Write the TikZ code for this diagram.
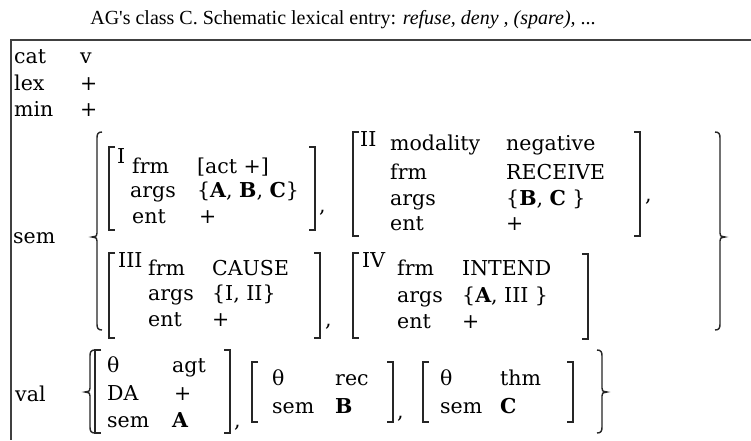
\documentclass[tikz,border=0pt]{standalone}
\usepackage{fontspec}
\setmainfont{DejaVu Serif}
\newfontfamily\titlefam{Liberation Serif}
\newcommand\bodyfont{\fontsize{20.5}{25}\selectfont}
\newcommand\titlefont{\titlefam\fontsize{20}{24}\selectfont}
% bracket helpers: x, top, bottom
\newcommand\mylbrk[3]{\draw[brk] (#1+6,#2) -- (#1,#2) -- (#1,#3) -- (#1+6,#3);}
\newcommand\myrbrk[3]{\draw[brk] (#1-6,#2) -- (#1,#2) -- (#1,#3) -- (#1-6,#3);}
% brace helpers: tip x, top, middle, bottom
\newcommand\mylbrace[4]{\draw[brk] (#1+10,#2) .. controls (#1+6,#2) and (#1+5,#2+2) .. (#1+5,#2+6) -- (#1+5,#3-4) .. controls (#1+5,#3-1) .. (#1,#3) .. controls (#1+5,#3+1) .. (#1+5,#3+4) -- (#1+5,#4-6) .. controls (#1+5,#4-2) and (#1+6,#4) .. (#1+10,#4);}
\newcommand\myrbrace[4]{\draw[brk] (#1-10,#2) .. controls (#1-6,#2) and (#1-5,#2+2) .. (#1-5,#2+6) -- (#1-5,#3-4) .. controls (#1-5,#3-1) .. (#1,#3) .. controls (#1-5,#3+1) .. (#1-5,#3+4) -- (#1-5,#4-6) .. controls (#1-5,#4-2) and (#1-6,#4) .. (#1-10,#4);}
\begin{document}
\begin{tikzpicture}[x=1pt,y=-1pt,
  txt/.style={anchor=base west, inner sep=0pt, font=\bodyfont},
  brk/.style={line width=1.4pt, black!85},
  rule/.style={line width=2pt, black!75}]
\useasboundingbox (0,0) rectangle (751,440);
\fill[white] (0,0) rectangle (751,440);
% title
\node[anchor=base, inner sep=0pt, font=\titlefont] (title) at (343,24)
  {AG's class C. Schematic lexical entry: \textit{refuse, deny , (spare),} ...};
% frame
\draw[rule] (10,39.5) -- (751,39.5);
\draw[rule] (11,39) -- (11,440);
% top features
\node[txt] (cat) at (14,63) {cat};  \node[txt] (catv) at (80,63) {v};
\node[txt] (lex) at (14,90) {lex};  \node[txt] (lexv) at (80,90) {+};
\node[txt] (min) at (14,116) {min}; \node[txt] (minv) at (80,116) {+};
\node[txt] (sem) at (13,243) {sem};
\node[txt] (val) at (15,401) {val};
% sem braces
\mylbrace{92}{132}{237}{330}
\myrbrace{725}{132}{237}{330}
% box I
\mylbrk{109}{147}{230}
\myrbrk{315}{147}{230}
\node[txt] (iI) at (117,163) {I};
\node[txt] (iFrm) at (132,173) {frm};  \node[txt] (iFrmV) at (197,173) {[act +]};
\node[txt] (iArgs) at (130,197) {args}; \node[txt] (iArgsV) at (197,197) {\{\textbf{A}, \textbf{B}, \textbf{C}\}};
\node[txt] (iEnt) at (132,223) {ent};  \node[txt] (iEntV) at (199,223) {+};
\node[txt] (iCom) at (319,212) {,};
% box II
\mylbrk{353}{132}{236}
\myrbrk{640}{132}{236}
\node[txt] (iiI) at (360,146) {II};
\node[txt] (iiMod) at (390,150) {modality}; \node[txt] (iiModV) at (506,150) {negative};
\node[txt] (iiFrm) at (390,179) {frm};      \node[txt] (iiFrmV) at (506,179) {RECEIVE};
\node[txt] (iiArgs) at (390,205) {args};    \node[txt] (iiArgsV) at (506,205) {\{\textbf{B}, \textbf{C} \}};
\node[txt] (iiEnt) at (390,230) {ent};      \node[txt] (iiEntV) at (506,230) {+};
\node[txt] (iiCom) at (645,201) {,};
% box III
\mylbrk{109}{253}{338}
\myrbrk{320}{253}{338}
\node[txt] (iiiI) at (118,267) {III};
\node[txt] (iiiFrm) at (148,275) {frm};   \node[txt] (iiiFrmV) at (212,275) {CAUSE};
\node[txt] (iiiArgs) at (148,300) {args}; \node[txt] (iiiArgsV) at (212,300) {\{I, II\}};
\node[txt] (iiiEnt) at (148,326) {ent};   \node[txt] (iiiEntV) at (212,326) {+};
\node[txt] (iiiCom) at (325,326) {,};
% box IV
\mylbrk{353}{253}{338}
\myrbrk{588}{254}{339}
\node[txt] (ivI) at (362,267) {IV};
\node[txt] (ivFrm) at (397,275) {frm};   \node[txt] (ivFrmV) at (462,275) {INTEND};
\node[txt] (ivArgs) at (397,302) {args}; \node[txt] (ivArgsV) at (462,302) {\{\textbf{A}, III \}};
\node[txt] (ivEnt) at (397,328) {ent};   \node[txt] (ivEntV) at (462,328) {+};
% val
\mylbrace{85}{350}{392}{433}
\myrbrace{607}{350}{392}{433}
\mylbrk{95}{350}{433}
\myrbrk{230}{350}{433}
\node[txt] (v1Th) at (107,372) {θ};   \node[txt] (v1ThV) at (172,372) {agt};
\node[txt] (v1DA) at (107,400) {DA};  \node[txt] (v1DAV) at (174,400) {+};
\node[txt] (v1Sem) at (107,427) {sem}; \node[txt] (v1SemV) at (172,427) {\textbf{A}};
\node[txt] (v1Com) at (234,427) {,};
\mylbrk{252}{362}{422}
\myrbrk{393}{362}{422}
\node[txt] (v2Th) at (272,385) {θ};   \node[txt] (v2ThV) at (335,385) {rec};
\node[txt] (v2Sem) at (272,413) {sem}; \node[txt] (v2SemV) at (335,413) {\textbf{B}};
\node[txt] (v2Com) at (397,418) {,};
\mylbrk{423}{362}{422}
\myrbrk{573}{362}{422}
\node[txt] (v3Th) at (440,385) {θ};   \node[txt] (v3ThV) at (500,385) {thm};
\node[txt] (v3Sem) at (440,413) {sem}; \node[txt] (v3SemV) at (500,413) {\textbf{C}};
\end{tikzpicture}
\end{document}
